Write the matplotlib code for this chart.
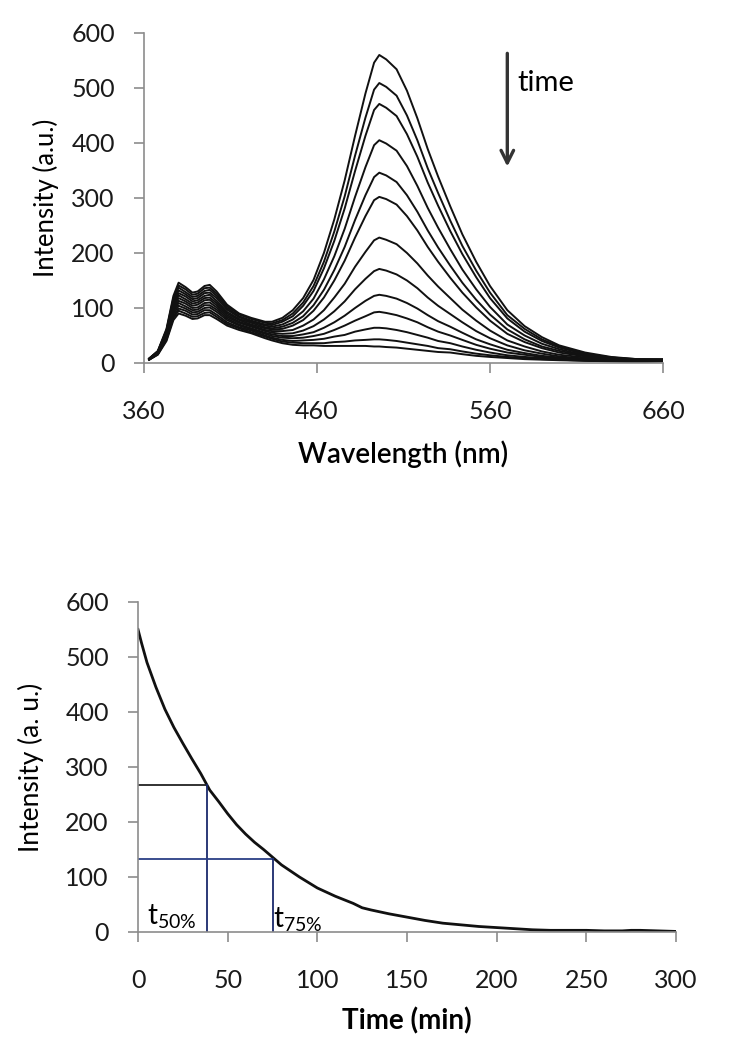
import numpy as np
import matplotlib
matplotlib.use("Agg")
import matplotlib.pyplot as plt

plt.rcParams['font.family'] = ['Lato', 'DejaVu Sans']

# emission spectra, one row per wavelength, one column per time point
wavelength = [363, 368, 373, 377, 380, 384, 388, 391, 395, 398, 402, 408, 415, 422,
              430, 434, 440, 446, 452, 458, 464, 470, 476, 482, 488, 493, 496, 500,
              506, 512, 518, 524, 530, 537, 544, 552, 560, 570, 580, 590, 600, 615,
              630, 645, 660]
spectra = [
    [8, 8, 8, 8, 7, 7, 7, 7, 7, 7, 6, 6, 6],
    [22, 21, 21, 20, 20, 19, 19, 18, 17, 17, 16, 16, 15],
    [62, 60, 58, 57, 55, 53, 51, 49, 47, 46, 44, 42, 40],
    [122, 118, 115, 111, 107, 104, 100, 96, 93, 89, 85, 82, 78],
    [146, 141, 137, 132, 127, 123, 118, 113, 109, 104, 99, 95, 90],
    [138, 134, 129, 125, 121, 116, 112, 108, 103, 99, 95, 90, 86],
    [128, 124, 120, 116, 112, 108, 104, 100, 96, 92, 88, 84, 80],
    [130, 126, 122, 118, 114, 110, 106, 101, 97, 93, 89, 85, 81],
    [140, 136, 131, 127, 122, 118, 114, 109, 105, 100, 96, 91, 87],
    [142, 137, 133, 128, 124, 119, 115, 110, 105, 101, 96, 92, 87],
    [130, 126, 122, 118, 113, 109, 105, 101, 97, 93, 88, 84, 80],
    [106, 103, 100, 97, 93, 90, 87, 84, 81, 78, 74, 71, 68],
    [90, 88, 85, 83, 80, 78, 75, 73, 70, 68, 65, 63, 60],
    [82, 80, 77, 75, 73, 70, 68, 66, 63, 61, 59, 56, 54],
    [75, 73, 70, 68, 65, 63, 60, 58, 55, 53, 50, 48, 45],
    [75, 72, 69, 66, 63, 61, 58, 55, 52, 49, 46, 44, 41],
    [82, 78, 75, 70, 66, 62, 58, 53, 49, 46, 42, 39, 36],
    [96, 90, 85, 79, 73, 68, 60, 54, 49, 45, 40, 37, 33],
    [118, 110, 104, 94, 85, 78, 68, 59, 52, 46, 41, 36, 32],
    [151, 140, 131, 117, 105, 95, 79, 67, 56, 49, 42, 36, 32],
    [200, 184, 172, 152, 133, 119, 96, 79, 64, 53, 44, 36, 31],
    [261, 239, 222, 194, 169, 150, 119, 94, 74, 60, 48, 38, 31],
    [332, 303, 281, 244, 211, 186, 144, 112, 86, 68, 51, 39, 31],
    [413, 377, 349, 302, 260, 228, 175, 134, 100, 77, 57, 41, 31],
    [490, 446, 413, 356, 305, 267, 202, 153, 113, 85, 61, 42, 31],
    [546, 497, 460, 396, 338, 296, 223, 167, 122, 92, 64, 43, 30],
    [560, 509, 471, 405, 346, 302, 228, 171, 124, 93, 64, 43, 30],
    [552, 502, 464, 399, 341, 298, 224, 168, 122, 91, 63, 42, 29],
    [534, 486, 449, 386, 329, 288, 216, 161, 117, 87, 60, 40, 28],
    [495, 450, 416, 358, 305, 267, 200, 150, 109, 81, 56, 37, 26],
    [445, 405, 375, 322, 275, 241, 181, 136, 99, 74, 51, 34, 24],
    [389, 354, 328, 282, 241, 211, 159, 119, 87, 65, 46, 31, 22],
    [339, 309, 286, 246, 210, 184, 139, 104, 76, 57, 40, 27, 20],
    [285, 259, 240, 207, 177, 155, 118, 89, 66, 50, 36, 25, 19],
    [234, 213, 198, 170, 146, 128, 97, 74, 55, 42, 30, 21, 16],
    [184, 168, 156, 134, 115, 101, 77, 58, 43, 33, 24, 17, 13],
    [140, 128, 118, 102, 88, 77, 59, 45, 34, 26, 19, 14, 11],
    [96, 87, 81, 70, 61, 53, 41, 32, 24, 19, 14, 11, 9],
    [67, 62, 57, 50, 43, 38, 30, 23, 18, 15, 11, 9, 7],
    [47, 43, 40, 35, 30, 27, 21, 17, 13, 11, 9, 7, 6],
    [32, 30, 28, 25, 22, 19, 15, 12, 10, 8, 7, 6, 5],
    [19, 17, 16, 14, 13, 12, 10, 8, 7, 6, 5, 4, 4],
    [11, 10, 10, 9, 8, 7, 6, 5, 4, 4, 4, 3, 3],
    [7, 7, 6, 6, 5, 5, 4, 4, 3, 3, 2, 2, 2],
    [7, 6, 6, 6, 5, 5, 5, 4, 4, 4, 4, 3, 3],
]

# intensity at the band maximum vs time
time_min = [0, 2, 5, 10, 15, 20, 25, 30, 35, 40, 45, 50, 55, 60, 65, 70, 75, 80,
            90, 100, 110, 120, 125, 130, 140, 150, 160, 170, 180, 190, 200, 210,
            220, 230, 240, 250, 260, 270, 275, 280, 290, 300]
intensity = [550, 525, 490, 445, 405, 372, 343, 315, 288, 258, 237, 215, 195, 178,
             163, 150, 136, 122, 100, 80, 65, 52, 44, 40, 33, 27, 21, 16, 13, 10,
             8, 6, 4, 3, 3, 3, 2, 2, 3, 3, 2, 1]

t50, i50 = 38.3, 267
t75, i75 = 75, 132

spine_col = '#8c8c8c'
navy = '#1a2a6c'


def style_axes(ax):
    for side in ['top', 'right']:
        ax.spines[side].set_visible(False)
    for side in ['left', 'bottom']:
        ax.spines[side].set_color(spine_col)
        ax.spines[side].set_linewidth(1.2)
    ax.tick_params(direction='out', length=7, width=1.2, color=spine_col,
                   labelsize=18, labelcolor='#1a1a1a')
    ax.tick_params(axis='y', pad=14)
    ax.tick_params(axis='x', pad=20)


fig = plt.figure(figsize=(7.38, 10.5), dpi=100)

# top panel: spectra
ax1 = fig.add_axes([0.1951, 0.6543, 0.7033, 0.3143])
spec = np.array(spectra)
for k in range(spec.shape[1]):
    ax1.plot(wavelength, spec[:, k], color='#111111', lw=1.4)
ax1.set_xlim(360, 660)
ax1.set_ylim(0, 600)
ax1.set_xticks([360, 460, 560, 660])
ax1.set_yticks(range(0, 601, 100))
style_axes(ax1)
ax1.set_xlabel('Wavelength (nm)', fontsize=20, fontweight='semibold', labelpad=12)
ax1.set_ylabel('Intensity (a.u.)', fontsize=18.5, labelpad=9)
ax1.annotate('', xy=(570, 352), xytext=(570, 568),
             arrowprops=dict(arrowstyle='->,head_length=0.9,head_width=0.45',
                             color='#333333', lw=2.4))
ax1.text(576, 509, 'time', fontsize=21, va='center', ha='left')

# bottom panel: decay
ax2 = fig.add_axes([0.187, 0.1124, 0.729, 0.3143])
ax2.plot(time_min, intensity, color='#111111', lw=2)
ax2.plot([0, t50], [i50, i50], color='#222222', lw=1.3)
ax2.plot([t50, t50], [0, i50], color=navy, lw=1.3)
ax2.plot([0, t75], [i75, i75], color='#2b3f86', lw=1.3)
ax2.plot([t75, t75], [0, i75], color=navy, lw=1.3)
ax2.text(5, 28, r't$_{\mathregular{50\%}}$', fontsize=20, va='center', ha='left')
ax2.text(75, 22, r't$_{\mathregular{75\%}}$', fontsize=20, va='center', ha='left')
ax2.set_xlim(0, 300)
ax2.set_ylim(0, 600)
ax2.set_xticks(range(0, 301, 50))
ax2.set_yticks(range(0, 601, 100))
style_axes(ax2)
ax2.set_xlabel('Time (min)', fontsize=20, fontweight='bold', labelpad=11)
ax2.set_ylabel('Intensity (a. u.)', fontsize=19, labelpad=15)

fig.savefig('out.png', dpi=100)
